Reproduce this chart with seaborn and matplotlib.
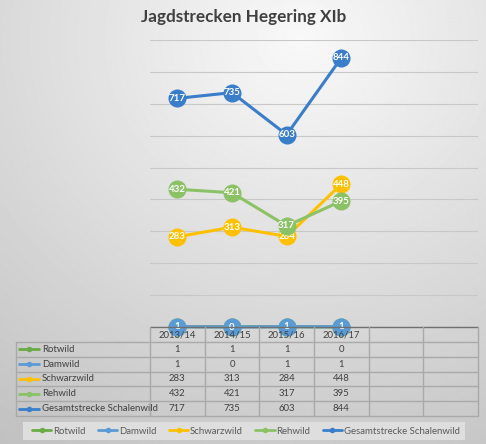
import numpy as np
import pandas as pd
import matplotlib
matplotlib.use("Agg")
import matplotlib.pyplot as plt
import seaborn as sns
from matplotlib.lines import Line2D
from matplotlib.patches import Rectangle

# ---------------- data ----------------
seasons = ["2013/14", "2014/15", "2015/16", "2016/17"]
n_empty_cols = 2
series_names = ["Rotwild", "Damwild", "Schwarzwild", "Rehwild", "Gesamtstrecke Schalenwild"]
rotwild = [1, 1, 1, 0]
damwild = [1, 0, 1, 1]
schwarzwild = [283, 313, 284, 448]
rehwild = [432, 421, 317, 395]
gesamt = [717, 735, 603, 844]
y_ticks = list(range(0, 1000, 100))
title = "Jagdstrecken Hegering XIb"

series_values = [rotwild, damwild, schwarzwild, rehwild, gesamt]
colors = ["#6aab45", "#5b9bd5", "#ffc000", "#8cc266", "#3a7dc9"]

rows = []
for name, vals in zip(series_names, series_values):
    for s, v in zip(seasons, vals):
        rows.append({"Saison": s, "Wert": v, "Serie": name})
df = pd.DataFrame(rows)

# ---------------- style ----------------
sns.set_theme(style="white")
plt.rcParams["font.family"] = ["Lato", "DejaVu Sans"]

W, H = 486, 444
fig = plt.figure(figsize=(W / 100, H / 100), dpi=100)

# background radial gradient
bg = fig.add_axes([0, 0, 1, 1], zorder=-10)
bg.axis("off")
yy, xx = np.mgrid[0:H, 0:W]
r = np.sqrt(((xx - 300) / W) ** 2 + ((yy - 40) / H) ** 2)
val = np.clip(0.975 - 0.2 * r, 0, 1)
bg.imshow(val, cmap="gray", vmin=0, vmax=1, aspect="auto", extent=[0, 1, 0, 1])
bg.set_xlim(0, 1)
bg.set_ylim(0, 1)

# geometry (pixels)
plot_left, plot_right, plot_top, plot_bottom = 150, 478, 40, 327
tab_left, tab_bottom = 16, 416
ncols = len(seasons) + n_empty_cols
colw = (plot_right - plot_left) / ncols

# ---------------- main plot ----------------
ax = fig.add_axes([plot_left / W, (H - plot_bottom) / H,
                   (plot_right - plot_left) / W, (plot_bottom - plot_top) / H])
ax.patch.set_alpha(0)
x_pos = {s: i for i, s in enumerate(seasons)}
df["x"] = df["Saison"].map(x_pos)

for k, (name, col) in enumerate(zip(series_names, colors)):
    sub = df[df["Serie"] == name]
    sns.lineplot(data=sub, x="x", y="Wert", ax=ax, color=col, linewidth=2.2,
                 marker="o", markersize=13, markeredgewidth=0, zorder=3 + 2 * k,
                 legend=False, clip_on=False)
    for xi, v in zip(sub["x"], sub["Wert"]):
        ax.text(xi, v, str(v), ha="center", va="center", color="white",
                fontsize=7, fontweight="bold", zorder=4 + 2 * k, clip_on=False)

ax.set_xlim(-0.5, ncols - 0.5)
ax.set_ylim(0, 900)
ax.set_yticks(y_ticks)
ax.set_xticks([])
ax.yaxis.grid(True, color="#c8c8c8", linewidth=0.8)
ax.tick_params(left=False, labelleft=False, bottom=False, labelbottom=False)
ax.set_xlabel("")
ax.set_ylabel("")
for sp in ax.spines.values():
    sp.set_visible(False)

# ---------------- data table ----------------
tax = fig.add_axes([tab_left / W, (H - tab_bottom) / H,
                    (plot_right - tab_left) / W, (tab_bottom - plot_bottom) / H], zorder=0)
tax.patch.set_alpha(0)
left_x = -0.5 - (plot_left - tab_left) / colw
nrows = len(series_names) + 1
tax.set_xlim(left_x, ncols - 0.5)
tax.set_ylim(nrows, 0)
tax.axis("off")
grid_c = "#a9a9a9"
for rr in range(1, nrows + 1):
    tax.plot([left_x, ncols - 0.5], [rr, rr], color=grid_c, lw=1.0, clip_on=False)
tax.plot([-0.5, ncols - 0.5], [0, 0], color="#6f6f6f", lw=1.0, clip_on=False)
for c in range(ncols + 1):
    tax.plot([-0.5 + c, -0.5 + c], [0, nrows], color=grid_c, lw=1.0, clip_on=False)
tax.plot([left_x, left_x], [1, nrows], color=grid_c, lw=1.0, clip_on=False)

txt_c = "#404040"
fs = 6.9
for i, s in enumerate(seasons):
    tax.text(i, 0.55, s, ha="center", va="center", fontsize=fs, color=txt_c)
for j, (name, vals, col) in enumerate(zip(series_names, series_values, colors)):
    yrow = j + 1.5
    tax.plot([left_x + 0.04, left_x + 0.44], [yrow, yrow], color=col, lw=2.0,
             solid_capstyle="butt")
    tax.plot([left_x + 0.24], [yrow], marker="o", color=col, markersize=4, markeredgewidth=0)
    tax.text(left_x + 0.47, yrow, name, ha="left", va="center", fontsize=fs, color=txt_c)
    for i, v in enumerate(vals):
        tax.text(i, yrow, str(v), ha="center", va="center", fontsize=fs, color=txt_c)

# ---------------- legend ----------------
fig.patches.append(Rectangle((23 / W, (H - 440) / H), (465 - 23) / W, 18 / H,
                             transform=fig.transFigure, facecolor="#dedede",
                             edgecolor="none", zorder=-5))
handles = [Line2D([0], [0], color=c, lw=2.0, marker="o", markersize=4,
                  markeredgewidth=0) for c in colors]
fig.legend(handles, series_names, loc="center", ncol=5,
           bbox_to_anchor=(246 / W, 1 - 431 / H), frameon=False,
           fontsize=6.9, handlelength=2.0, handletextpad=0.2, columnspacing=1.3,
           labelcolor="#595959")

# ---------------- title ----------------
fig.text(244 / W, 1 - 17 / H, title, ha="center", va="center", fontsize=12.3,
         fontweight="bold", color="#404040")

fig.savefig("out.png", dpi=100)
